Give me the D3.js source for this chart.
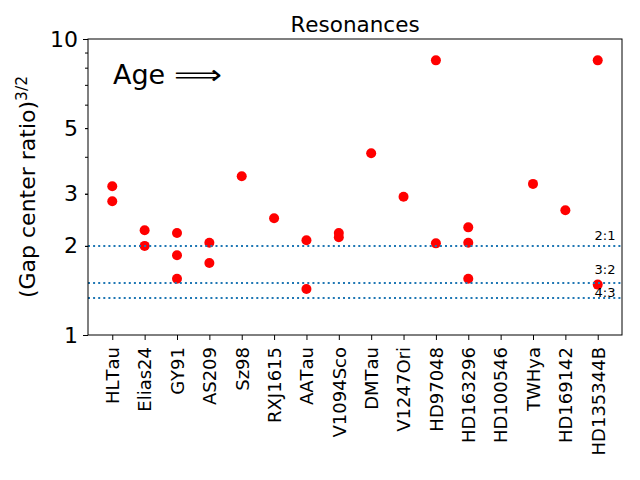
<!DOCTYPE html>
<meta charset="utf-8">
<style>
  body { margin: 0; background: #fff; }
  text { font-family: "DejaVu Sans", sans-serif; fill: #000; font-kerning: none; }
</style>
<svg width="640" height="480"></svg>
<script src="https://cdn.jsdelivr.net/npm/d3@7/dist/d3.min.js"></script>
<script>

    // disks, ordered by age
    var disks = ["HLTau", "Elias24", "GY91", "AS209", "Sz98", "RXJ1615", "AATau", "V1094Sco",
                 "DMTau", "V1247Ori", "HD97048", "HD163296", "HD100546", "TWHya", "HD169142", "HD135344B"];

    // (gap center ratio)^(3/2) for each disk
    var ratios = [
        [3.18, 2.83],
        [2.26, 2.0],
        [2.21, 1.86, 1.55],
        [2.05, 1.75],
        [3.44],
        [2.48],
        [2.09, 1.43],
        [2.21, 2.14],
        [4.11],
        [2.93],
        [8.47, 2.04],
        [2.31, 2.05, 1.55],
        [],
        [3.24],
        [2.64],
        [8.47, 1.48]
    ];

    var resonances = [2, 3 / 2, 4 / 3];
    var resonanceLabels = ["2:1", "3:2", "4:3"];

    var yLabelTicks = [1, 2, 3, 5, 10];
    var yMinorTicks = [2, 3, 4, 5, 6, 7, 8, 9];

    var svg = d3.select("svg"),
        margin = {top: 39, left: 88, bottom: 145, right: 18},
        width = +svg.attr("width") - margin.left - margin.right,
        height = +svg.attr("height") - margin.top - margin.bottom;

    var x = d3.scalePoint()
        .domain(disks)
        .range([0, width])
        .padding(0.75);

    var y = d3.scaleLog()
        .domain([1, 10])
        .range([height, 0]);

    var g = svg.append("g")
        .attr("transform", "translate(" + margin.left + "," + margin.top + ")");

    // points
    var pts = [];
    disks.forEach(function(d, i) {
        ratios[i].forEach(function(v) { pts.push([d, v]); });
    });

    g.selectAll("circle")
        .data(pts)
        .enter().append("circle")
        .attr("cx", d => x(d[0]))
        .attr("cy", d => y(d[1]))
        .attr("r", 5)
        .attr("fill", "red");

    // resonance lines
    g.selectAll("line.res")
        .data(resonances)
        .enter().append("line")
        .attr("class", "res")
        .attr("x1", 0).attr("x2", width)
        .attr("y1", d => y(d)).attr("y2", d => y(d))
        .attr("stroke", "#1f77b4")
        .attr("stroke-width", 2)
        .attr("stroke-dasharray", "2,3.1");

    var labelShift = [-5.5, -8.5, -1];
    g.selectAll("text.res")
        .data(resonances)
        .enter().append("text")
        .attr("class", "res")
        .attr("x", width - 6.5)
        .attr("y", (d, i) => y(d) + labelShift[i])
        .attr("text-anchor", "end")
        .style("font-size", "13px")
        .text((d, i) => resonanceLabels[i]);

    // y axis
    var yMinor = g.append("g")
        .call(d3.axisLeft(y).tickValues(yMinorTicks).tickSize(3).tickFormat(""));
    yMinor.select(".domain").remove();

    var yAxis = g.append("g")
        .call(d3.axisLeft(y).tickValues(yLabelTicks).tickSize(5).tickPadding(5)
            .tickFormat(d3.format("d")));
    yAxis.select(".domain").remove();
    yAxis.selectAll(".tick line").filter(d => d != 1 && d != 10).attr("x2", -3);
    yAxis.selectAll("text")
        .attr("x", -10)
        .style("font-family", "DejaVu Sans")
        .style("font-size", "22px");

    // x axis
    var xAxis = g.append("g")
        .attr("transform", "translate(0," + height + ")")
        .call(d3.axisBottom(x).tickSize(5));
    xAxis.select(".domain").remove();
    xAxis.selectAll("text")
        .attr("transform", "rotate(-90)")
        .attr("x", -12)
        .attr("y", 0)
        .attr("dy", "0.35em")
        .attr("text-anchor", "end")
        .style("font-family", "DejaVu Sans")
        .style("font-size", "18px");

    // frame
    g.append("rect")
        .attr("width", width)
        .attr("height", height)
        .attr("fill", "none")
        .attr("stroke", "#000")
        .attr("stroke-width", 1);

    // title
    svg.append("text")
        .attr("x", margin.left + width / 2)
        .attr("y", 31.5)
        .attr("text-anchor", "middle")
        .style("font-size", "21.5px")
        .text("Resonances");

    // y label
    var yl = svg.append("text")
        .attr("transform", "translate(35," + (margin.top + height / 2) + ") rotate(-90)")
        .attr("text-anchor", "middle")
        .style("font-size", "22px");
    yl.append("tspan").text("(Gap center ratio)");
    yl.append("tspan").attr("dy", -8).style("font-size", "15.5px").text("3/2");

    // age annotation
    svg.append("text")
        .attr("x", 113)
        .attr("y", 83.5)
        .style("font-size", "27px")
        .text("Age");
    svg.append("text")
        .attr("x", 174)
        .attr("y", 83.5)
        .attr("textLength", 48)
        .attr("lengthAdjust", "spacingAndGlyphs")
        .style("font-size", "27px")
        .text("\u27F9");

</script>
